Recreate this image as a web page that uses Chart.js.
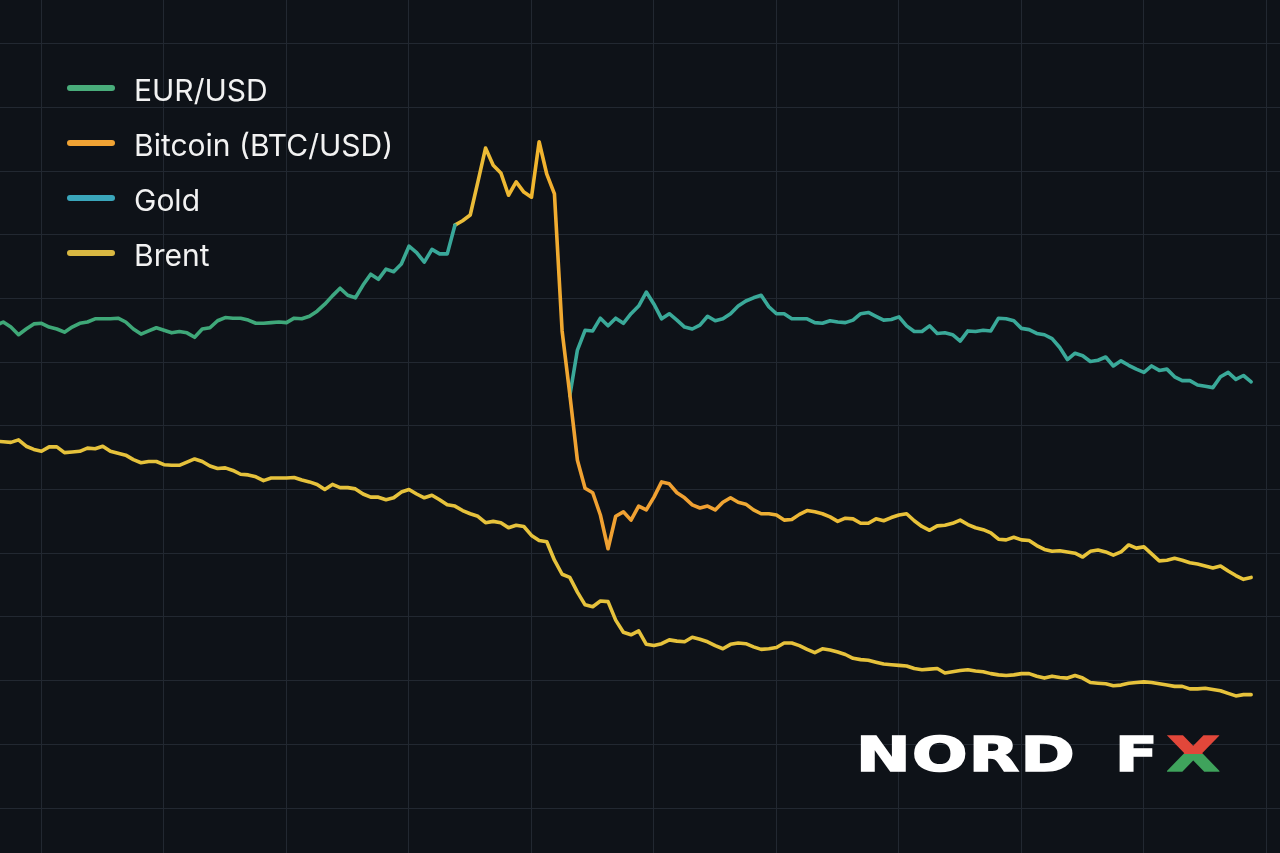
<!DOCTYPE html>
<html>
<head>
<meta charset="utf-8">
<title>EUR/USD, Bitcoin, Gold, Brent</title>
<script src="https://cdn.jsdelivr.net/npm/chart.js@4.4.1/dist/chart.umd.min.js"></script>
<style>
  html, body { margin: 0; padding: 0; background: #0e1218; }
  #wrap { position: relative; width: 1280px; height: 853px; overflow: hidden; background: #0e1218; }
  #chart { position: absolute; left: 0; top: 0; }
  #legend { position: absolute; left: 67px; top: 60px; font-family: Inter, "Noto Sans", sans-serif; font-size: 30px; color: #f2f2f2; }
  #legend .item { display: flex; align-items: center; height: 55px; }
  #legend .item span:last-child { position: relative; top: 2px; }
  #legend .swatch { width: 48px; height: 6px; border-radius: 3px; margin-right: 19px; }
  #logo span { position: absolute; top: 722px; font-family: "DejaVu Sans", sans-serif; font-weight: bold; font-size: 48px; line-height: 64px; color: #ffffff; -webkit-text-stroke: 1.6px #ffffff; transform-origin: left top; white-space: pre; }
  #logo .nord { left: 856px; letter-spacing: 1px; transform: scaleX(1.36); }
  #logo .f { left: 1115px; transform: scaleX(1.3); }
  #logo .x { left: 1167px; transform: scaleX(1.42); background: linear-gradient(to bottom, #e2473a 0%, #e2473a 50%, #3fa35c 50%, #3fa35c 100%); -webkit-background-clip: text; background-clip: text; color: transparent; -webkit-text-stroke: 1.6px transparent; }
</style>
</head>
<body>
<div id="wrap">
  <canvas id="chart" width="1280" height="853"></canvas>
  <div id="legend"></div>
  <div id="logo"><span class="nord">NORD</span><span class="f">F</span><span class="x">X</span></div>
</div>
<script>
// Giá trị (chỉ số chuẩn hoá, lưới 10 đơn vị)
var eurUsdStart = 0;
var eurUsd = [85.7, 86.3, 85.5, 84.3, 85.2, 86.0, 86.1, 85.5, 85.2, 84.7,
    85.5, 86.1, 86.3, 86.8, 86.8, 86.8, 86.9, 86.3, 85.2, 84.4,
    84.9, 85.4, 85.0, 84.6, 84.8, 84.6, 83.9, 85.2, 85.4, 86.5,
    87.0, 86.9, 86.9, 86.6, 86.1, 86.1, 86.2, 86.3, 86.2, 86.9,
    86.8, 87.2, 88.0, 89.1, 90.4, 91.6, 90.5, 90.1, 92.1, 93.8,
    93.0, 94.6, 94.2, 95.4, 98.2, 97.2, 95.7, 97.7, 97.0, 97.0,
    101.5];

var btcStart = 60;
var bitcoin = [101.5, 102.2, 103.1, 108.3, 113.6, 110.9, 109.7, 106.2, 108.3, 106.7,
    105.9, 114.6, 109.5, 106.4, 84.9, 75.0, 64.6, 60.2, 59.5, 56.0,
    50.7, 55.8, 56.5, 55.2, 57.4, 56.8, 58.8, 61.2, 60.9, 59.5,
    58.7, 57.6, 57.1, 57.4, 56.8, 58.0, 58.7, 58.0, 57.7, 56.8,
    56.2, 56.2, 56.0, 55.2, 55.3, 56.1, 56.7, 56.5, 56.2, 55.7,
    55.0, 55.5, 55.4, 54.7, 54.7, 55.4, 55.1, 55.6, 56.0, 56.2,
    55.1, 54.2, 53.6, 54.3, 54.4, 54.7, 55.2, 54.5, 54.0, 53.7,
    53.2, 52.2, 52.1, 52.5, 52.1, 52.0, 51.2, 50.6, 50.3, 50.4,
    50.2, 50.0, 49.4, 50.3, 50.5, 50.2, 49.7, 50.2, 51.3, 50.8,
    51.0, 49.9, 48.8, 48.9, 49.2, 48.9, 48.5, 48.3, 48.0, 47.7,
    48.0, 47.2, 46.5, 45.9, 46.2];

var goldStart = 75;
var gold = [74.7, 81.9, 85.0, 84.9, 86.9,
    85.7, 86.9, 86.1, 87.6, 88.8, 91.0, 89.1, 86.8, 87.6, 86.6,
    85.5, 85.2, 85.8, 87.2, 86.5, 86.8, 87.6, 88.8, 89.6, 90.1,
    90.5, 88.7, 87.6, 87.6, 86.8, 86.8, 86.8, 86.2, 86.1, 86.5,
    86.3, 86.2, 86.6, 87.6, 87.8, 87.2, 86.6, 86.7, 87.1, 85.7,
    84.8, 84.8, 85.7, 84.5, 84.6, 84.3, 83.3, 84.9, 84.8, 85.0,
    84.9, 86.9, 86.8, 86.5, 85.3, 85.1, 84.5, 84.3, 83.7, 82.3,
    80.4, 81.4, 81.0, 80.1, 80.3, 80.8, 79.4, 80.2, 79.5, 78.9,
    78.4, 79.4, 78.7, 78.9, 77.7, 77.1, 77.1, 76.4, 76.2, 76.0,
    77.7, 78.4, 77.3, 77.9, 76.9];

var brentStart = 0;
var brent = [67.6, 67.5, 67.4, 67.8, 66.8, 66.3, 66.0, 66.7, 66.7, 65.8,
    65.9, 66.0, 66.5, 66.4, 66.8, 66.0, 65.7, 65.4, 64.7, 64.2,
    64.4, 64.4, 63.9, 63.8, 63.8, 64.3, 64.8, 64.4, 63.7, 63.3,
    63.4, 63.0, 62.4, 62.3, 62.0, 61.4, 61.8, 61.8, 61.8, 61.9,
    61.5, 61.2, 60.8, 60.0, 60.8, 60.3, 60.3, 60.1, 59.3, 58.8,
    58.8, 58.4, 58.7, 59.6, 60.0, 59.3, 58.7, 59.1, 58.4, 57.6,
    57.4, 56.7, 56.2, 55.8, 54.8, 55.0, 54.8, 54.0, 54.4, 54.2,
    52.8, 52.0, 51.8, 48.9, 46.7, 46.2, 43.9, 41.9, 41.6, 42.5,
    42.4, 39.5, 37.6, 37.2, 37.8, 35.7, 35.5, 35.8, 36.4, 36.2,
    36.1, 36.8, 36.5, 36.1, 35.5, 35.0, 35.7, 35.9, 35.8, 35.3,
    34.9, 35.0, 35.2, 35.9, 35.9, 35.5, 34.9, 34.4, 35.0, 34.8,
    34.5, 34.1, 33.5, 33.3, 33.2, 32.9, 32.6, 32.5, 32.4, 32.3,
    31.9, 31.7, 31.8, 31.9, 31.2, 31.4, 31.6, 31.7, 31.5, 31.4,
    31.1, 30.9, 30.8, 30.9, 31.1, 31.1, 30.7, 30.4, 30.7, 30.5,
    30.4, 30.8, 30.4, 29.7, 29.6, 29.5, 29.2, 29.3, 29.6, 29.7,
    29.8, 29.7, 29.5, 29.3, 29.1, 29.1, 28.7, 28.7, 28.8, 28.6,
    28.4, 28.0, 27.6, 27.8, 27.8];

// Vạch lưới (giá trị trên trục)
var xGrid = [6, 22, 38, 54, 70, 86, 102, 118, 134, 150, 166];
var yGrid = [10, 20, 30, 40, 50, 60, 70, 80, 90, 100, 110, 120, 130];

var labels = ['EUR/USD', 'Bitcoin (BTC/USD)', 'Gold', 'Brent'];
var legendColors = ['#49ad7b', '#f0a334', '#3aa6bb', '#d9b842'];

function toPoints(values, start) {
    return values.map(function (v, k) {
        return {x: start + k, y: v};
    });
}

// Gradient ngang theo chiều rộng vùng vẽ
function hGradient(stops) {
    var cache = null, cacheW = 0;
    return function (context) {
        var chart = context.chart;
        var area = chart.chartArea;
        if (!area) return stops[0][1];
        if (cache && cacheW === area.right - area.left) return cache;
        var g = chart.ctx.createLinearGradient(area.left, 0, area.right, 0);
        stops.forEach(function (s) { g.addColorStop(s[0], s[1]); });
        cache = g;
        cacheW = area.right - area.left;
        return g;
    };
}

var chart = new Chart(document.getElementById('chart'), {
    type: 'line',
    data: {
        datasets: [{
                label: labels[0],
                data: toPoints(eurUsd, eurUsdStart),
                borderColor: hGradient([[0, '#3fa877'], [0.24, '#3fa87a'], [0.34, '#39a89b'], [1, '#39a89b']])
            }, {
                label: labels[1],
                data: toPoints(bitcoin, btcStart),
                borderColor: hGradient([[0, '#e9bd3a'], [0.36, '#e9bd3a'], [0.42, '#f2b62e'], [0.45, '#f0a232'], [0.55, '#f0a032'], [0.63, '#edb936'], [0.72, '#e8c33a'], [1, '#e8c53b']])
            }, {
                label: labels[2],
                data: toPoints(gold, goldStart),
                borderColor: '#3aa999'
            }, {
                label: labels[3],
                data: toPoints(brent, brentStart),
                borderColor: '#e6c23c'
            }]
    },
    options: {
        responsive: false,
        animation: false,
        layout: {padding: 0},
        elements: {
            point: {radius: 0, hoverRadius: 0},
            line: {borderWidth: 3.6, tension: 0, borderJoinStyle: 'round', borderCapStyle: 'round'}
        },
        plugins: {
            legend: {display: false},
            tooltip: {enabled: false}
        },
        scales: {
            x: {
                type: 'linear',
                min: 0.58,
                max: 167.77,
                afterBuildTicks: function (axis) {
                    axis.ticks = xGrid.map(function (v) { return {value: v}; });
                },
                ticks: {display: false},
                grid: {color: '#222831', lineWidth: 1, drawTicks: false},
                border: {display: false}
            },
            y: {
                type: 'linear',
                min: 2.94,
                max: 136.85,
                afterBuildTicks: function (axis) {
                    axis.ticks = yGrid.map(function (v) { return {value: v}; });
                },
                ticks: {display: false},
                grid: {color: '#222831', lineWidth: 1, drawTicks: false},
                border: {display: false}
            }
        }
    }
});

// Legend HTML từ dữ liệu của chart
var legend = document.getElementById('legend');
chart.data.datasets.forEach(function (ds, i) {
    var item = document.createElement('div');
    item.className = 'item';
    var sw = document.createElement('span');
    sw.className = 'swatch';
    sw.style.background = legendColors[i];
    var txt = document.createElement('span');
    txt.textContent = ds.label;
    item.appendChild(sw);
    item.appendChild(txt);
    legend.appendChild(item);
});
</script>
</body>
</html>
